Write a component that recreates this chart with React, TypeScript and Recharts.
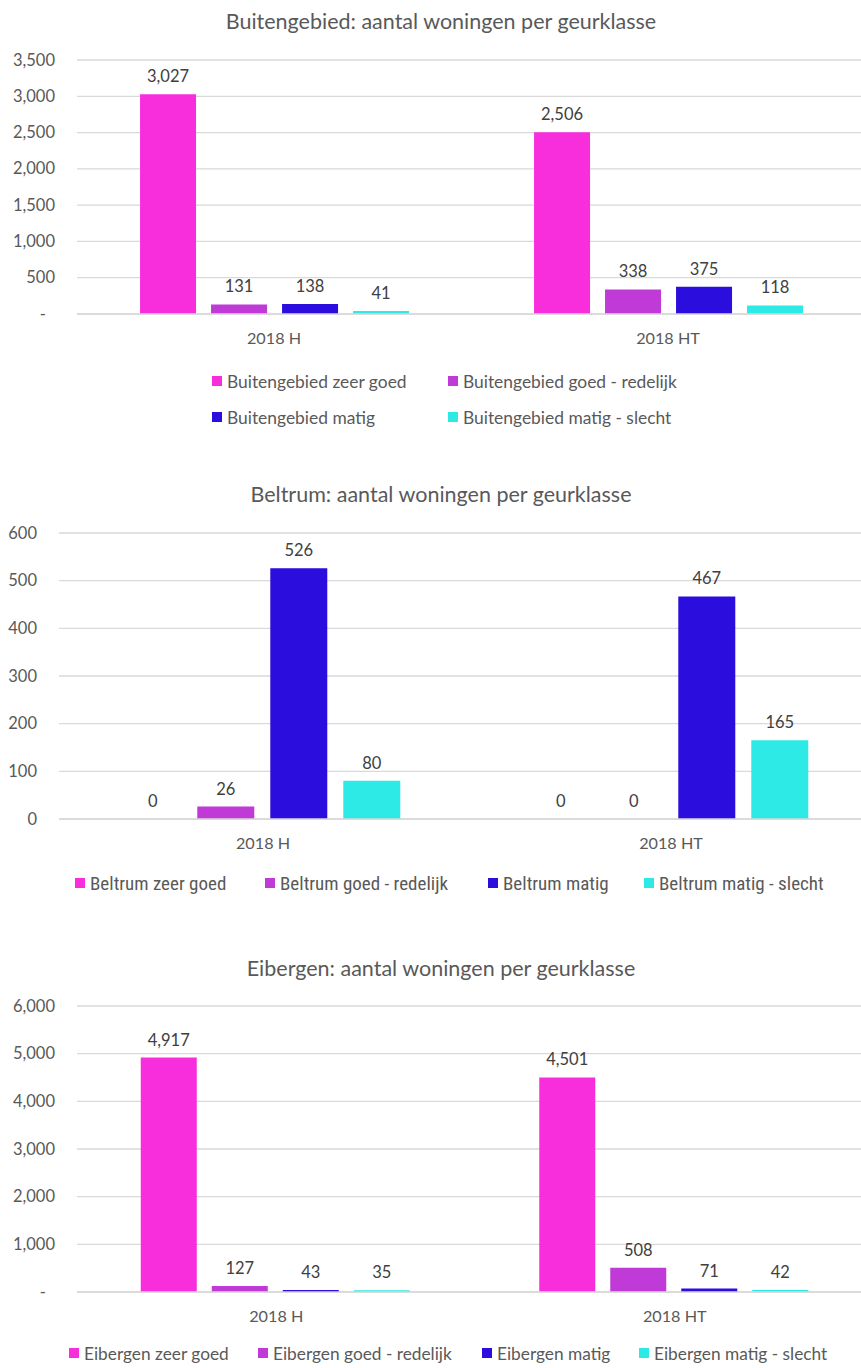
import React from "react"
import { Bar, BarChart, CartesianGrid, LabelList, XAxis, YAxis } from "recharts"

const categories = ["2018 H", "2018 HT"]

const buitengebiedZeerGoed = [3027, 2506]
const buitengebiedGoedRedelijk = [131, 338]
const buitengebiedMatig = [138, 375]
const buitengebiedMatigSlecht = [41, 118]
const buitengebiedTicks = [0, 500, 1000, 1500, 2000, 2500, 3000, 3500]

const beltrumZeerGoed = [0, 0]
const beltrumGoedRedelijk = [26, 0]
const beltrumMatig = [526, 467]
const beltrumMatigSlecht = [80, 165]
const beltrumTicks = [0, 100, 200, 300, 400, 500, 600]

const eibergenZeerGoed = [4917, 4501]
const eibergenGoedRedelijk = [127, 508]
const eibergenMatig = [43, 71]
const eibergenMatigSlecht = [35, 42]
const eibergenTicks = [0, 1000, 2000, 3000, 4000, 5000, 6000]

const classNames = ["zeer goed", "goed - redelijk", "matig", "matig - slecht"]
const colors = ["#f82edc", "#bf3ad6", "#2b0ede", "#2eeae6"]

const FONT = "Lato, 'Open Sans', sans-serif"
const TEXT = "#595959"
const GRID = "#d9d9d9"

const fmt = (v: number) => v.toLocaleString("en-US")

function buildRows(series: number[][]) {
  return categories.map((cat, i) => ({
    cat,
    s0: series[0][i],
    s1: series[1][i],
    s2: series[2][i],
    s3: series[3][i],
  }))
}

type PanelProps = {
  region: string
  series: number[][]
  ticks: number[]
  dashZero: boolean
  top: number
  titleY: number
  plotTop: number
  plotBottom: number
  left: number
  right: number
  barGap: number
  legend: { x: number; y: number }[]
  legendFont: number
  legendFamily?: string
}

// bar value label, drawn also for zero-height bars
const ValueLabel = (props: any) => {
  const { x, y, width, height, value } = props
  const topY = Math.min(Number(y), Number(y) + Number(height || 0))
  return (
    <text
      x={Number(x) + Number(width) / 2}
      y={topY - 12}
      textAnchor="middle"
      fill="#404040"
      fontSize={16.5}
      fontFamily={FONT}
    >
      {fmt(Number(value))}
    </text>
  )
}

function Panel(p: PanelProps) {
  const rows = buildRows(p.series)
  const height = p.plotBottom - p.top + 40
  const YTick = (props: any) => {
    const { x, y, payload } = props
    const v = payload.value as number
    const zero = v === 0 && p.dashZero
    return (
      <text x={zero ? x - 9 : x} y={y} dy={5.5} textAnchor="end" fill={TEXT} fontSize={16.5} fontFamily={FONT}>
        {zero ? "-" : fmt(v)}
      </text>
    )
  }
  return (
    <>
      <div
        style={{
          position: "absolute",
          left: 0,
          width: 882,
          top: p.titleY - 14,
          height: 28,
          lineHeight: "28px",
          textAlign: "center",
          fontFamily: FONT,
          fontSize: 21.5,
          color: TEXT,
        }}
      >
        {p.region}: aantal woningen per geurklasse
      </div>
      <div style={{ position: "absolute", left: 0, top: p.top }}>
        <BarChart
          width={880}
          height={height}
          data={rows}
          margin={{ top: p.plotTop - p.top, right: 880 - p.right, bottom: 10, left: 0 }}
          barCategoryGap="16%"
          barGap={p.barGap}
        >
          <CartesianGrid vertical={false} stroke={GRID} strokeWidth={1.3} />
          <XAxis
            dataKey="cat"
            height={30}
            axisLine={{ stroke: GRID, strokeWidth: 1.3 }}
            tickLine={false}
            tickSize={0}
            tickMargin={18}
            tick={{ fill: TEXT, fontSize: 16.2, fontFamily: FONT }}
          />
          <YAxis
            width={p.left}
            domain={[p.ticks[0], p.ticks[p.ticks.length - 1]]}
            ticks={p.ticks}
            axisLine={false}
            tickLine={false}
            tickSize={0}
            tickMargin={22}
            tick={YTick}
          />
          {[0, 1, 2, 3].map((i) => (
            <Bar
              key={i}
              dataKey={`s${i}`}
              name={`${p.region} ${classNames[i]}`}
              fill={colors[i]}
              minPointSize={0.01}
              isAnimationActive={false}
            >
              <LabelList dataKey={`s${i}`} content={ValueLabel} />
            </Bar>
          ))}
        </BarChart>
      </div>
      {p.legend.map((pos, i) => (
        <div
          key={i}
          style={{
            position: "absolute",
            left: pos.x,
            top: pos.y - 12,
            height: 24,
            display: "flex",
            alignItems: "center",
            fontFamily: p.legendFamily ?? FONT,
            fontSize: p.legendFont,
            color: TEXT,
            whiteSpace: "nowrap",
          }}
        >
          <span style={{ width: 10, height: 10, background: colors[i], marginRight: 5, display: "inline-block" }} />
          {p.region} {classNames[i]}
        </div>
      ))}
    </>
  )
}

export default function App() {
  return (
    <div
      style={{
        position: "absolute",
        left: 0,
        top: 0,
        width: 861,
        height: 1368,
        overflow: "hidden",
        background: "#fff",
      }}
    >
      <Panel
        region="Buitengebied"
        series={[buitengebiedZeerGoed, buitengebiedGoedRedelijk, buitengebiedMatig, buitengebiedMatigSlecht]}
        ticks={buitengebiedTicks}
        dashZero={true}
        top={30}
        titleY={21}
        plotTop={60}
        plotBottom={314}
        left={77}
        right={865}
        barGap={15}
        legend={[
          { x: 212, y: 381 },
          { x: 448, y: 381 },
          { x: 212, y: 417 },
          { x: 448, y: 417 },
        ]}
        legendFont={17.4}
      />
      <Panel
        region="Beltrum"
        series={[beltrumZeerGoed, beltrumGoedRedelijk, beltrumMatig, beltrumMatigSlecht]}
        ticks={beltrumTicks}
        dashZero={false}
        top={510}
        titleY={494}
        plotTop={533}
        plotBottom={819}
        left={59}
        right={875}
        barGap={16}
        legend={[
          { x: 75, y: 883 },
          { x: 265, y: 883 },
          { x: 488, y: 883 },
          { x: 644, y: 883 },
        ]}
        legendFont={19}
        legendFamily="'Liberation Sans Narrow', 'Roboto Condensed', Lato, sans-serif"
      />
      <Panel
        region="Eibergen"
        series={[eibergenZeerGoed, eibergenGoedRedelijk, eibergenMatig, eibergenMatigSlecht]}
        ticks={eibergenTicks}
        dashZero={true}
        top={985}
        titleY={968}
        plotTop={1006}
        plotBottom={1292}
        left={77}
        right={874}
        barGap={15}
        legend={[
          { x: 69, y: 1353 },
          { x: 258, y: 1353 },
          { x: 482, y: 1353 },
          { x: 639, y: 1353 },
        ]}
        legendFont={17.3}
      />
    </div>
  )
}
